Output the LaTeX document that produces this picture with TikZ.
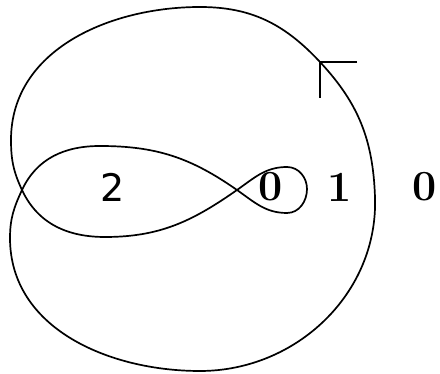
\documentclass[tikz,border=0pt]{standalone}
\usepackage{fontspec}
\newfontfamily\twofont{DejaVu Sans}
\begin{document}
\begin{tikzpicture}[x=1pt,y=1pt,
		curve/.style={line width=1.7pt,black},
		num/.style={font=\fontsize{43}{43}\selectfont\bfseries,inner sep=0pt},
		numsf/.style={font=\fontsize{38}{38}\selectfont\twofont,inner sep=0pt}]
				\useasboundingbox (0,0) rectangle (440,374);
				\coordinate (P) at (320,312);
				\coordinate (R) at (375,177);
				\coordinate (B) at (200,3);
				\coordinate (L2) at (10,136);
				\coordinate (C1) at (22,184);
				\coordinate (T1) at (100,228);
				\coordinate (C2) at (237,184);
				\coordinate (Sb) at (287,161);
				\coordinate (Sr) at (307,185);
				\coordinate (St) at (287,207);
				\coordinate (IB) at (105,137);
				\coordinate (L1) at (11,234);
				\coordinate (Top) at (200,367);
				\coordinate (TickR) at (357,312);
				\coordinate (TickD) at (320,276);
				\draw[curve] (P) to[out=-47,in=92] (R) to[out=-88,in=0] (B)
					to[out=180,in=-90] (L2) to[out=90,in=245] (C1)
					to[out=65,in=180] (T1) to[out=0,in=145] (C2)
					to[out=-35,in=180] (Sb) to[out=0,in=-90] (Sr)
					to[out=90,in=0] (St) to[out=180,in=35] (C2)
					to[out=215,in=0] (IB) to[out=180,in=-65] (C1)
					to[out=115,in=-90] (L1) to[out=90,in=180] (Top)
					to[out=0,in=133] (P);
				\draw[curve] (TickR)--(P)--(TickD);
				\node[numsf] (N2) at (113,187) {2};
				\node[num] (N0in) at (271,187) {0};
				\node[num] (N1) at (340,187) {1};
				\node[num] (N0out) at (425,187) {0};
\end{tikzpicture}
\end{document}
